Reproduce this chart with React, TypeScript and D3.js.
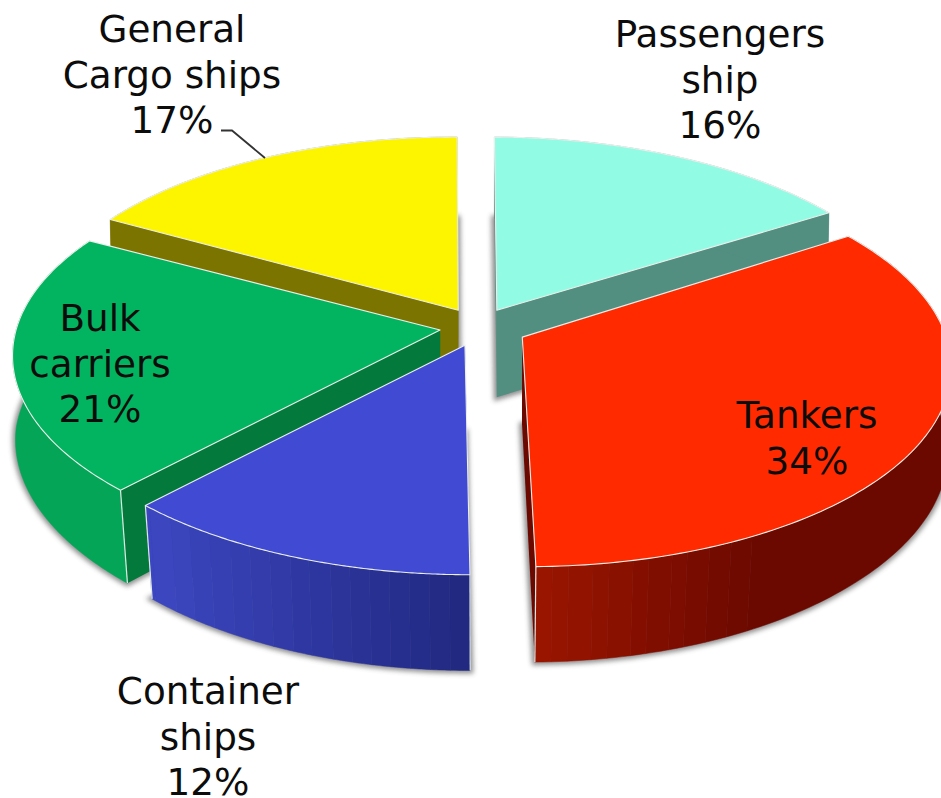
import React from "react";
import * as d3 from "d3";

// Fleet composition shown as an exploded 3D pie, clockwise from twelve o'clock.
const categories = ["Passengers ship", "Tankers", "Container ships", "Bulk carriers", "General Cargo ships"];
const shares = [16, 34, 12, 21, 17];
// How far each slice is pulled out of the pie, across and into the ground plane.
const explodeX = [0.033, 0.092, -0.042, -0.101, -0.059];
const explodeZ = [0.086, -0.051, -0.091, -0.015, 0.086];
const twistDegrees = [0.4, -1, 0, 0, 0.6];
const topColors = ["#92fbe3", "#ff2a00", "#404ad2", "#02b45f", "#fdf500"];
const cutColors = ["#528f80", "#6b0900", "#2a3399", "#037a3c", "#7c7400"];
const rimNear = ["#528f80", "#9a1500", "#3c46c0", "#05a558", "#7c7400"];
const rimFar = ["#528f80", "#6b0900", "#20287f", "#05a85a", "#7c7400"];

// Label text blocks: lines, centre x and first baseline.
const labelLines = [
  ["Passengers", "ship", "16%"],
  ["Tankers", "34%"],
  ["Container", "ships", "12%"],
  ["Bulk", "carriers", "21%"],
  ["General", "Cargo ships", "17%"],
];
const labelX = [720, 807, 208, 100, 172];
const labelY = [47, 428, 704, 331, 42];

const WIDTH = 941;
const HEIGHT = 798;
const CX = 483;
const CY = 327;
const RX = 424;
const RY = 197.4;
const PERSPECTIVE = 0.14;
const SHEAR = 5;
const BASE_DEPTH = 87;
const BASE_LEVEL = 310;
const DEPTH_GROWTH = 0.033;
const SEGMENTS = 128;

type Pt = [number, number];

// The pie's underside narrows more towards the viewer.
const taper = d3.scaleLinear().domain([340, 500]).range([0.995, 0.98]).clamp(true);

// Perspective projection of a unit-disc vector (x right, z away from the viewer).
const project = (x: number, z: number): Pt => {
  const w = 1 + PERSPECTIVE * z;
  return [(x * RX) / w, (-z * RY) / w];
};

const toBase = ([x, y]: Pt): Pt => [
  CX + (x - CX) * taper(y),
  y + BASE_DEPTH + (y - BASE_LEVEL) * DEPTH_GROWTH,
];

const line = d3.line<Pt>();
const poly = (pts: Pt[]) => line(pts) + "Z";

const arcs = d3.pie<number>().sort(null).value((d) => d)(shares);

const slices = arcs.map((a, i) => {
  const mid = (a.startAngle + a.endAngle) / 2;
  const off = project(explodeX[i], explodeZ[i]);
  const apex: Pt = [CX + off[0], CY + off[1]];
  const twist = (twistDegrees[i] * Math.PI) / 180;
  const angle = d3.scaleLinear().domain([0, SEGMENTS]).range([a.startAngle + twist, a.endAngle + twist]);
  const rim: Pt[] = d3.range(SEGMENTS + 1).map((k) => {
    const t = angle(k);
    const z = Math.cos(t);
    const p = project(Math.sin(t), z);
    return [apex[0] + p[0] - z * SHEAR, apex[1] + p[1]];
  });
  return { i, mid, apex, rim, cosMid: Math.cos(mid) };
});

// Far slices are painted first so the near ones overlap them.
const paintOrder = d3.sort(slices, (s) => -s.cosMid);

// Rim shading steps in bands from the lit left side to the dark right side.
const rimSweep = [
  d3.scaleLinear().domain([0, 1]).range([1, 0]),
  d3.scaleLinear().domain([537, 760]).range([1, 0]).clamp(true),
  d3.scaleLinear().domain([155, 470]).range([1, 0]).clamp(true),
  d3.scaleLinear().domain([60, 900]).range([1, 0]).clamp(true),
  d3.scaleLinear().domain([0, 1]).range([1, 0]),
];
const band = (x: number) => Math.round(x / 20) * 20;

// Joins neighbouring rim points of one shade into a single wall panel.
const rimPanels = (rim: Pt[], tone: (p: Pt, q: Pt) => string) => {
  const panels: { color: string; pts: Pt[] }[] = [];
  for (const [p, q] of d3.pairs(rim)) {
    const color = tone(p, q);
    const current = panels[panels.length - 1];
    if (current && current.color === color) current.pts.push(q);
    else panels.push({ color, pts: [p, q] });
  }
  return panels;
};

function Slice({ s }: { s: (typeof slices)[number] }) {
  const { i, apex, rim } = s;
  const first = rim[0];
  const last = rim[rim.length - 1];
  const baseFace = [apex, ...rim].map(toBase);
  const paint = d3.interpolateRgb(rimFar[i], rimNear[i]);
  const panels = rimPanels(rim, (p, q) => paint(rimSweep[i](band((p[0] + q[0]) / 2))));
  return (
    <g>
      <path d={poly(baseFace)} fill="#444" stroke="#444" strokeWidth={6} opacity={0.6} filter="url(#soft)" />
      {[first, last].map((p, k) => (
        <path key={k} d={poly([apex, p, toBase(p), toBase(apex)])} fill={cutColors[i]} />
      ))}
      {panels.map((panel, k) => (
        <path
          key={k}
          d={poly([...panel.pts, ...panel.pts.map(toBase).reverse()])}
          fill={panel.color}
          stroke={panel.color}
          strokeWidth={0.5}
        />
      ))}
      {[first, last].map((p, k) =>
        p[1] > CY ? (
          <line key={k} x1={p[0]} y1={p[1]} x2={toBase(p)[0]} y2={toBase(p)[1]} stroke="#dfe8e4" strokeWidth={1.2} />
        ) : null
      )}
      <path d={poly([apex, ...rim])} fill={topColors[i]} stroke="#ecefec" strokeWidth={1.1} strokeLinejoin="round" />
    </g>
  );
}

export default function App() {
  return (
    <svg
      width={WIDTH}
      height={HEIGHT}
      viewBox={`0 0 ${WIDTH} ${HEIGHT}`}
      style={{ position: "absolute", left: 0, top: 0, background: "#fff" }}
      role="img"
      aria-label={categories.join(", ")}
    >
      <defs>
        <filter id="soft" x="-10%" y="-10%" width="120%" height="120%">
          <feGaussianBlur stdDeviation={2.6} />
        </filter>
      </defs>
      {paintOrder.map((s) => (
        <Slice key={s.i} s={s} />
      ))}
      <path d="M221,130.5H232L265,158" fill="none" stroke="#333" strokeWidth={1.8} />
      {labelLines.map((lines, i) => (
        <text
          key={i}
          x={labelX[i]}
          y={labelY[i]}
          textAnchor="middle"
          fontFamily="'DejaVu Sans', Verdana, sans-serif"
          fontSize={37.3}
          fill="#0c0c0c"
        >
          {lines.map((t, k) => (
            <tspan key={k} x={labelX[i]} dy={k === 0 ? 0 : 45.7}>
              {t}
            </tspan>
          ))}
        </text>
      ))}
    </svg>
  );
}
